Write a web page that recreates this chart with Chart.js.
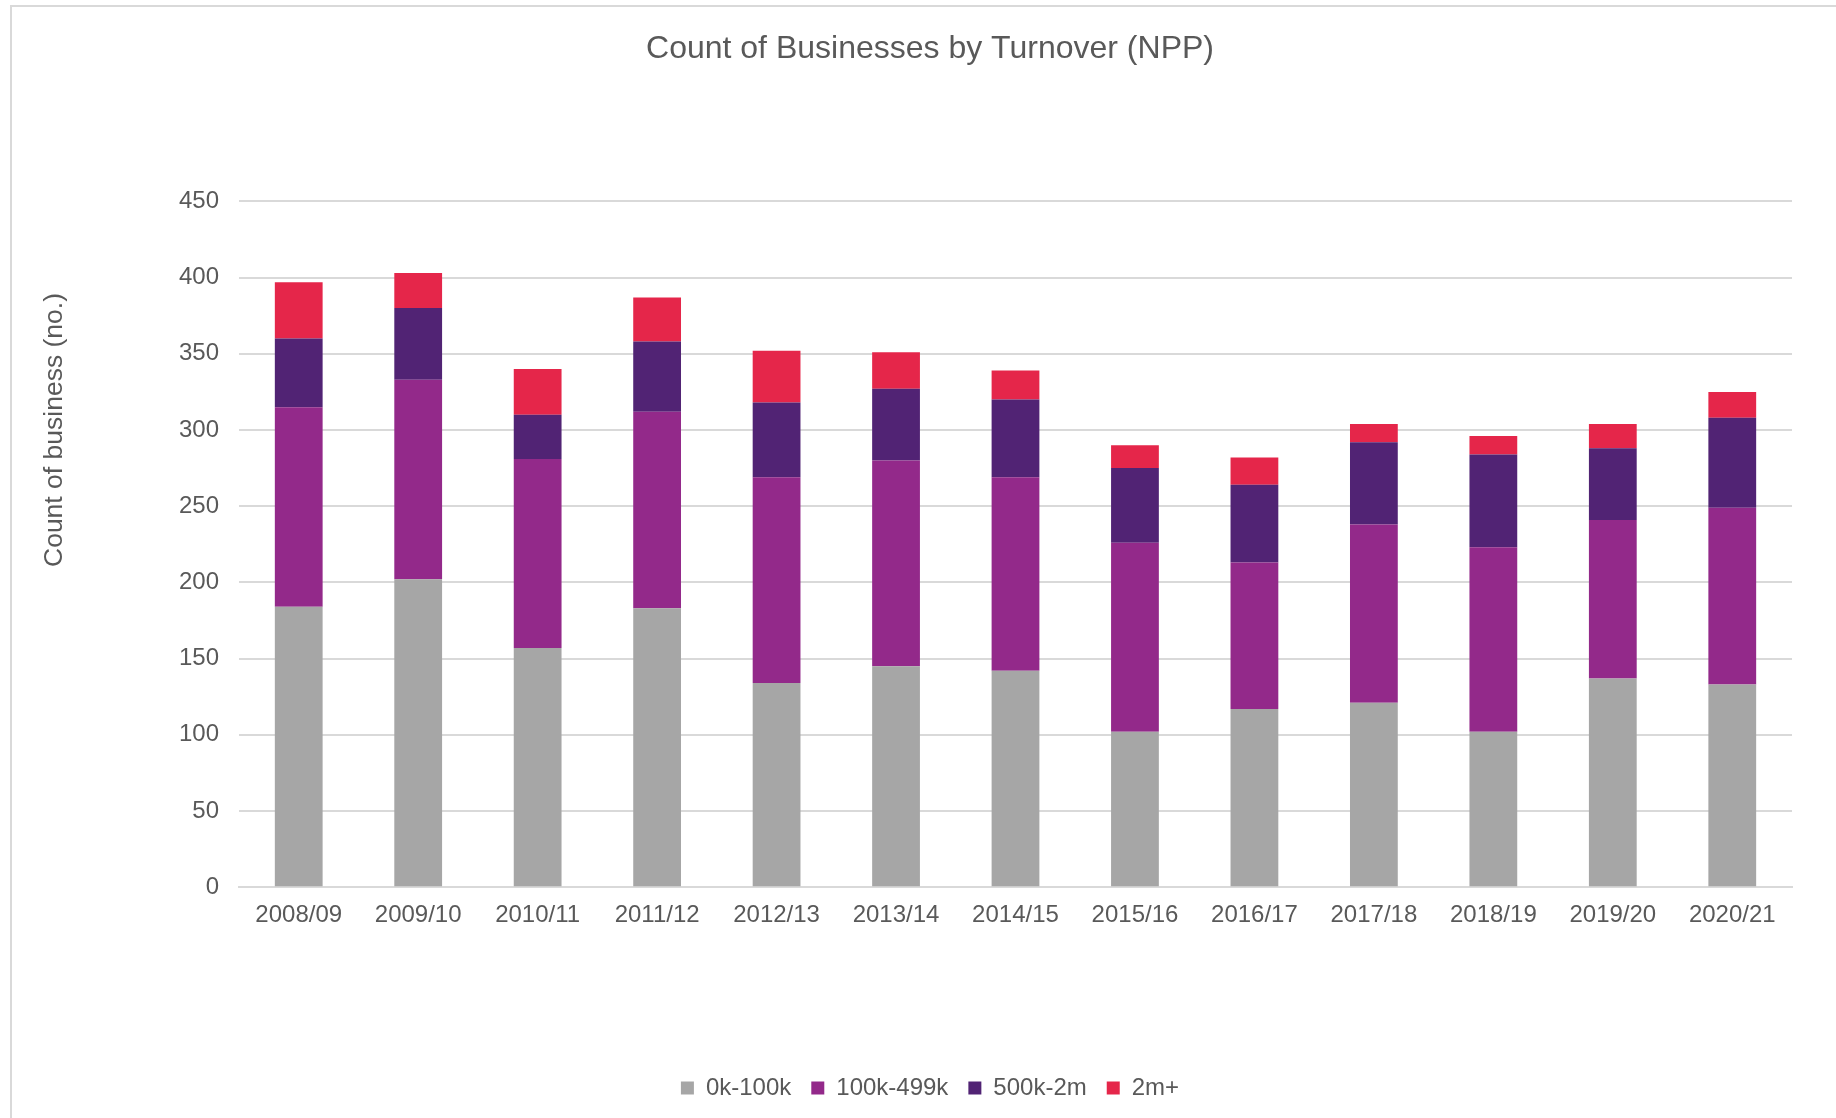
<!DOCTYPE html>
<html>
<head>
<meta charset="utf-8">
<script src="https://cdn.jsdelivr.net/npm/chart.js@4.4.1/dist/chart.umd.min.js"></script>
<style>
    html, body { margin: 0; padding: 0; background: #fff; }
    #wrap { position: relative; width: 1836px; height: 1118px; }
    #frame { position: absolute; left: 10px; top: 5px; right: -5px; bottom: -5px; border-top: 2px solid #d9d9d9; border-left: 2px solid #d9d9d9; }
    canvas { position: absolute; left: 0; top: 0; }
</style>
</head>
<body>
<div id="wrap">
    <div id="frame"></div>
    <canvas id="turnoverChart" width="1836" height="1118"></canvas>
</div>
<script>
// data
const years = ['2008/09', '2009/10', '2010/11', '2011/12', '2012/13', '2013/14', '2014/15',
               '2015/16', '2016/17', '2017/18', '2018/19', '2019/20', '2020/21'];
const band0to100k = [184, 202, 157, 183, 134, 145, 142, 102, 117, 121, 102, 137, 133];
const band100to499k = [131, 131, 124, 129, 135, 135, 127, 124, 96, 117, 121, 104, 116];
const band500kto2m = [45, 47, 29, 46, 49, 47, 51, 49, 51, 54, 61, 47, 59];
const band2mPlus = [37, 23, 30, 29, 34, 24, 19, 15, 18, 12, 12, 16, 17];
const yTicks = [0, 50, 100, 150, 200, 250, 300, 350, 400, 450];
const yTitle = 'Count of business (no.)';

const textColor = '#595959';
const fontFamily = '"Liberation Sans", Arial, sans-serif';

function makeSet(label, data, color) {
    return {
        label: label,
        data: data,
        backgroundColor: color,
        borderWidth: 0,
        categoryPercentage: 1,
        barPercentage: 0.4
    };
}

// Excel puts the axis title a bit above the middle, so draw it ourselves
const yTitlePlugin = {
    id: 'yTitle',
    afterDraw(chart) {
        const c = chart.ctx;
        c.save();
        c.translate(55, 430);
        c.rotate(-Math.PI / 2);
        c.fillStyle = textColor;
        c.font = '26.5px ' + fontFamily;
        c.textAlign = 'center';
        c.textBaseline = 'middle';
        c.fillText(yTitle, 0, 0);
        c.restore();
    }
};

const ctx = document.getElementById('turnoverChart').getContext('2d');
new Chart(ctx, {
    type: 'bar',
    data: {
        labels: years,
        datasets: [
            makeSet('0k-100k', band0to100k, '#a6a6a6'),
            makeSet('100k-499k', band100to499k, '#93298a'),
            makeSet('500k-2m', band500kto2m, '#512374'),
            makeSet('2m+', band2mPlus, '#e5264a')
        ]
    },
    plugins: [yTitlePlugin],
    options: {
        responsive: false,
        animation: false,
        layout: { padding: { left: 24, right: 0, top: 0, bottom: 8 } },
        plugins: {
            title: {
                display: true,
                text: 'Count of Businesses by Turnover (NPP)',
                color: textColor,
                font: { family: fontFamily, size: 32, weight: 'normal' },
                padding: { top: 30, bottom: 133 }
            },
            legend: {
                position: 'bottom',
                labels: {
                    color: textColor,
                    font: { family: fontFamily, size: 24 },
                    boxWidth: 13,
                    boxHeight: 13,
                    padding: 20
                }
            },
            tooltip: { enabled: false }
        },
        scales: {
            x: {
                stacked: true,
                grid: { display: false },
                border: { color: '#d9d9d9', width: 2 },
                ticks: { color: textColor, font: { family: fontFamily, size: 24 }, padding: 6, maxRotation: 0 },
                afterFit: function(scale) { scale.height += 120; }
            },
            y: {
                stacked: true,
                min: 0,
                max: 450,
                afterBuildTicks: function(scale) {
                    scale.ticks = yTicks.map(v => ({ value: v }));
                },
                afterFit: function(scale) { scale.width = 215; },
                grid: { color: '#d9d9d9', lineWidth: 2, drawTicks: false },
                border: { display: false },
                ticks: { color: textColor, font: { family: fontFamily, size: 24 }, padding: 20 }
            },
            yRight: {
                position: 'right',
                grid: { display: false },
                border: { display: false },
                ticks: { display: false },
                afterFit: function(scale) { scale.width = 44; }
            }
        }
    }
});
</script>
</body>
</html>
